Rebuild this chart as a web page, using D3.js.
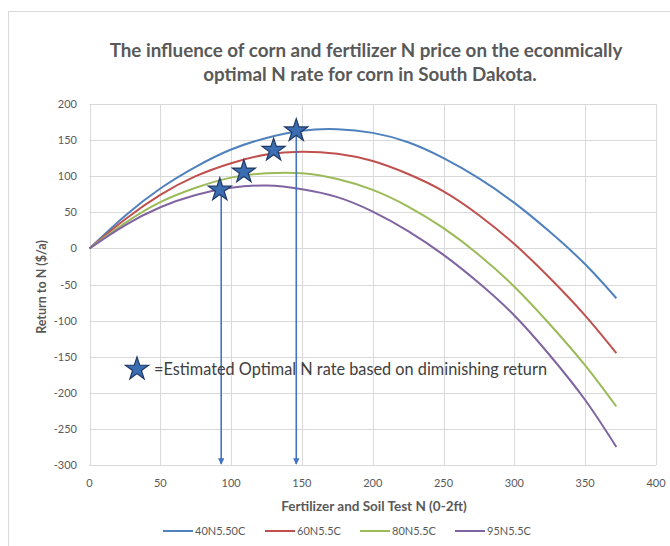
<!DOCTYPE html>
<html>
<head>
<meta charset="utf-8">
<script src="https://cdn.jsdelivr.net/npm/d3@7"></script>
<style>
  body { margin: 0; background: #fff; }
  text { font-family: Lato, "Open Sans", sans-serif; fill: #595959; }
</style>
</head>
<body>
<script>
// N rate (fertilizer + soil test N) and return to N for each price scenario
var nRates = [0, 25, 50, 75, 100, 125, 150, 175, 200, 225, 250, 275, 300, 325, 350, 372];
var s40 = [0, 45, 83, 113, 137, 153, 163, 165, 160, 147, 125, 97, 63, 23, -22, -69];
var s60 = [0, 40, 74, 100, 118, 130, 134, 131, 121, 103, 79, 46, 6, -41, -93, -145];
var s80 = [0, 35, 64, 84, 98, 104, 104, 96, 81, 58, 28, -9, -53, -105, -162, -219];
var s95 = [0, 32, 57, 74, 84, 87, 82, 71, 51, 24, -9, -48, -93, -148, -210, -275];
var seriesNames = ['40N5.50C', '60N5.5C', '80N5.5C', '95N5.5C'];
var seriesColors = ['#4f81bd', '#c0504d', '#9bbb59', '#8064a2'];

// estimated optimal N rates (stars) and the arrows dropped to the axis
var starN = [92, 109, 130, 146];
var starV = [81, 106, 136, 163];
var arrowN = [93, 146];

var xTicks = [0, 50, 100, 150, 200, 250, 300, 350, 400];
var yTicks = [200, 150, 100, 50, 0, -50, -100, -150, -200, -250, -300];

var svg = d3.select('body').append('svg')
    .attr('width', 670)
    .attr('height', 546);

// chart border
svg.append('rect')
    .attr('x', 8.5).attr('y', 11.5)
    .attr('width', 700).attr('height', 600)
    .attr('fill', 'none')
    .attr('stroke', '#d9d9d9');

var x = d3.scaleLinear().domain([0, 400]).range([89.5, 656]);
var y = d3.scaleLinear().domain([-300, 200]).range([465, 104]);

// gridlines
svg.append('g').selectAll('line').data(yTicks).join('line')
    .attr('x1', x(0)).attr('x2', x(400))
    .attr('y1', function(d) { return Math.round(y(d)) + 0.5; })
    .attr('y2', function(d) { return Math.round(y(d)) + 0.5; })
    .attr('stroke', '#d9d9d9');
svg.append('g').selectAll('line').data(xTicks).join('line')
    .attr('y1', y(200)).attr('y2', y(-300))
    .attr('x1', function(d) { return Math.round(x(d)) + 0.5; })
    .attr('x2', function(d) { return Math.round(x(d)) + 0.5; })
    .attr('stroke', '#d9d9d9');

// tick labels
svg.append('g').selectAll('text').data(yTicks).join('text')
    .attr('x', 77).attr('y', function(d) { return y(d) + 4; })
    .attr('text-anchor', 'end')
    .attr('font-size', 11)
    .text(function(d) { return d; });
svg.append('g').selectAll('text').data(xTicks).join('text')
    .attr('x', function(d) { return x(d); }).attr('y', 487)
    .attr('text-anchor', 'middle')
    .attr('font-size', 11)
    .text(function(d) { return d; });

// axis titles
svg.append('text')
    .attr('x', 374).attr('y', 511)
    .attr('text-anchor', 'middle')
    .attr('font-size', 13.5).attr('font-weight', 'bold')
    .text('Fertilizer and Soil Test N (0-2ft)');
svg.append('text')
    .attr('transform', 'translate(46,287) rotate(-90)')
    .attr('text-anchor', 'middle')
    .attr('font-size', 12.5).attr('font-weight', 'bold')
    .text('Return to N ($/a)');

// title
svg.append('text')
    .attr('x', 366).attr('y', 57)
    .attr('text-anchor', 'middle')
    .attr('font-size', 18.8).attr('font-weight', 'bold')
    .text('The influence of corn and fertilizer N price on the econmically');
svg.append('text')
    .attr('x', 370).attr('y', 81)
    .attr('text-anchor', 'middle')
    .attr('font-size', 18.8).attr('font-weight', 'bold')
    .text('optimal N rate for corn in South Dakota.');

// curves
var line = d3.line()
    .x(function(d, i) { return x(nRates[i]); })
    .y(function(d) { return y(d); })
    .curve(d3.curveNatural);
[s40, s60, s80, s95].forEach(function(s, i) {
    svg.append('path')
        .attr('d', line(s))
        .attr('fill', 'none')
        .attr('stroke', seriesColors[i])
        .attr('stroke-width', 2);
});

// arrows
svg.append('defs').append('marker')
    .attr('id', 'head')
    .attr('viewBox', '0 0 10 10')
    .attr('refX', 9).attr('refY', 5)
    .attr('markerWidth', 4).attr('markerHeight', 4)
    .attr('orient', 'auto')
  .append('path')
    .attr('d', 'M0,0 L10,5 L0,10 z')
    .attr('fill', '#4472c4');
arrowN.forEach(function(n, i) {
    var top = i == 0 ? starV[0] : starV[3];
    svg.append('line')
        .attr('x1', x(n)).attr('x2', x(n))
        .attr('y1', y(top)).attr('y2', 464)
        .attr('stroke', '#4472c4')
        .attr('stroke-width', 1.6)
        .attr('marker-end', 'url(#head)');
});

// stars
var star = d3.symbol().type(d3.symbolStar).size(165);
starN.forEach(function(n, i) {
    svg.append('path')
        .attr('d', star())
        .attr('transform', 'translate(' + x(n) + ',' + y(starV[i]) + ')')
        .attr('fill', '#3b6db3')
        .attr('stroke', '#1f3864')
        .attr('stroke-width', 1.2);
});

// star note
svg.append('path')
    .attr('d', star())
    .attr('transform', 'translate(137,369)')
    .attr('fill', '#3b6db3')
    .attr('stroke', '#1f3864')
    .attr('stroke-width', 1.2);
svg.append('text')
    .attr('x', 154).attr('y', 375)
    .attr('font-size', 16.3)
    .style('fill', '#404040')
    .text('=Estimated Optimal N rate based on diminishing return');

// legend
var legX = [163, 265, 360, 455];
seriesNames.forEach(function(name, i) {
    svg.append('line')
        .attr('x1', legX[i]).attr('x2', legX[i] + 30)
        .attr('y1', 531).attr('y2', 531)
        .attr('stroke', seriesColors[i])
        .attr('stroke-width', 2);
    svg.append('text')
        .attr('x', legX[i] + 32).attr('y', 535)
        .attr('font-size', 11)
        .text(name);
});
</script>
</body>
</html>
